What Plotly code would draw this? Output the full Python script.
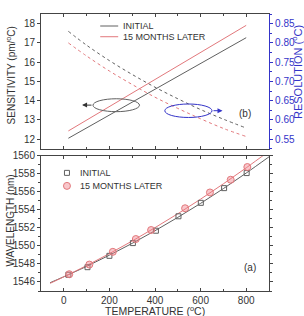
import plotly.graph_objects as go

# ---------------- data ----------------
temp_line = [20, 100, 200, 300, 400, 500, 600, 700, 800]
sens_initial = [12.05, 12.59, 13.26, 13.93, 14.60, 15.27, 15.94, 16.60, 17.27]
sens_later = [12.43, 12.99, 13.70, 14.40, 15.10, 15.80, 16.51, 17.21, 17.91]
res_initial = [0.830, 0.794, 0.754, 0.718, 0.685, 0.655, 0.627, 0.602, 0.579]
res_later = [0.800, 0.766, 0.727, 0.692, 0.659, 0.630, 0.603, 0.578, 0.557]

temp_initial = [20, 104, 200, 303, 404, 503, 601, 703, 802]
wl_initial = [1546.80, 1547.64, 1548.90, 1550.31, 1551.68, 1553.28, 1554.77, 1556.40, 1558.07]
temp_later = [24, 112, 215, 316, 383, 532, 641, 732, 805]
wl_later = [1546.86, 1547.93, 1549.34, 1550.76, 1551.76, 1554.17, 1555.92, 1557.33, 1558.74]

temp_fit = [-60, 0, 100, 200, 300, 400, 500, 600, 700, 800, 900]
fit_initial = [1545.92, 1546.58, 1547.73, 1548.97, 1550.28, 1551.68, 1553.16, 1554.71, 1556.35, 1558.07, 1559.87]
fit_later = [1545.85, 1546.57, 1547.82, 1549.14, 1550.54, 1552.02, 1553.56, 1555.18, 1556.88, 1558.65, 1560.49]

x_ticks = [0, 200, 400, 600, 800]
legend_labels = ["INITIAL", "15 MONTHS LATER"]

# ---------------- style ----------------
W, H = 304, 316
L, R, T, B = 40.7, 269.0, 14.0, 290.7
GRAY = "#606060"
RED = "#e2787c"
BLUE = "#3434c8"
FRAME = "#444444"
TXT = "#333333"
FONT = "Liberation Sans"


def px(xp):
    return (xp - L) / (R - L)


def py(yp):
    return (B - yp) / (B - T)


fig = go.Figure()

# top panel
fig.add_trace(go.Scatter(x=temp_line, y=sens_initial, mode="lines", xaxis="x2", yaxis="y2",
                         line=dict(color=GRAY, width=1), showlegend=False))
fig.add_trace(go.Scatter(x=temp_line, y=sens_later, mode="lines", xaxis="x2", yaxis="y2",
                         line=dict(color=RED, width=1), showlegend=False))
fig.add_trace(go.Scatter(x=temp_line, y=res_initial, mode="lines", xaxis="x2", yaxis="y3",
                         line=dict(color=GRAY, width=1, dash="dot", shape="spline"), showlegend=False))
fig.add_trace(go.Scatter(x=temp_line, y=res_later, mode="lines", xaxis="x2", yaxis="y3",
                         line=dict(color=RED, width=1, dash="dot", shape="spline"), showlegend=False))

# bottom panel
fig.add_trace(go.Scatter(x=temp_fit, y=fit_initial, mode="lines", xaxis="x", yaxis="y",
                         line=dict(color=GRAY, width=1, shape="spline"), showlegend=False))
fig.add_trace(go.Scatter(x=temp_fit, y=fit_later, mode="lines", xaxis="x", yaxis="y",
                         line=dict(color=RED, width=1, shape="spline"), showlegend=False))
fig.add_trace(go.Scatter(x=temp_initial, y=wl_initial, mode="markers", xaxis="x", yaxis="y",
                         marker=dict(symbol="square-open", size=5, color=GRAY, line=dict(width=1)),
                         showlegend=False))
fig.add_trace(go.Scatter(x=temp_later, y=wl_later, mode="markers", xaxis="x", yaxis="y",
                         marker=dict(symbol="circle", size=7, color="rgba(240,130,140,0.45)",
                                     line=dict(width=1, color=RED)),
                         showlegend=False))

ytop0 = py(148.7)
ybot1 = py(155.5)

axis_common = dict(showline=True, linecolor=FRAME, linewidth=1, ticklen=3, tickcolor=FRAME, automargin=False,
                   tickfont=dict(family=FONT, size=10, color=TXT), showgrid=False, zeroline=False)

fig.update_layout(
    width=W, height=H,
    margin=dict(l=L, r=W - R, t=T, b=H - B, pad=0, autoexpand=False),
    paper_bgcolor="white", plot_bgcolor="white",
    font=dict(family=FONT, color=TXT),
    xaxis=dict(domain=[0, 1], range=[-100, 900], anchor="y", ticks="inside", tickvals=x_ticks,
               mirror="ticks", minor=dict(ticks="inside", dtick=100, tick0=0, ticklen=2, tickcolor=FRAME),
               **axis_common),
    xaxis2=dict(domain=[0, 1], range=[-100, 900], anchor="y2", ticks="inside", tickvals=x_ticks,
                mirror="ticks", showticklabels=False, matches="x",
                minor=dict(ticks="inside", dtick=100, tick0=0, ticklen=2, tickcolor=FRAME),
                **axis_common),
    yaxis=dict(domain=[0, ybot1], range=[1545, 1560], anchor="x", ticks="outside", tick0=1546, dtick=2,
               mirror="ticks", minor=dict(ticks="outside", dtick=1, tick0=1545, ticklen=2, tickcolor=FRAME),
               **axis_common),
    yaxis2=dict(domain=[ytop0, 1], range=[11.5, 18.5], anchor="x2", ticks="outside", tick0=12, dtick=1,
                **axis_common),
    yaxis3=dict(overlaying="y2", side="right", anchor="x2", range=[0.525, 0.875], tick0=0.55, dtick=0.05,
                tickformat=".2f", showline=True, linecolor=BLUE, linewidth=1.2, ticks="outside",
                ticklen=3, tickcolor=BLUE, tickfont=dict(family=FONT, size=10, color=BLUE),
                showgrid=False, zeroline=False, automargin=False,
                minor=dict(ticks="outside", dtick=0.025, ticklen=2, tickcolor=BLUE)),
)

# ellipses and arrows (top panel)
fig.add_shape(type="circle", xref="x2", yref="y2", x0=128, x1=332, y0=13.43, y1=14.10,
              line=dict(color=GRAY, width=1))
fig.add_annotation(x=80, y=13.77, ax=128, ay=13.77, xref="x2", yref="y2", axref="x2", ayref="y2",
                   text="", showarrow=True, arrowhead=2, arrowsize=1, arrowwidth=1, arrowcolor="#333")
fig.add_shape(type="circle", xref="x2", yref="y3", x0=443, x1=650, y0=0.6064, y1=0.6414,
              line=dict(color=BLUE, width=1))
fig.add_annotation(x=696, y=0.624, ax=650, ay=0.624, xref="x2", yref="y3", axref="x2", ayref="y3",
                   text="", showarrow=True, arrowhead=2, arrowsize=1, arrowwidth=1, arrowcolor=BLUE)


def label(xp, yp, text, size=10, color=TXT, angle=0, xanchor="center"):
    fig.add_annotation(x=px(xp), y=py(yp), xref="paper", yref="paper", text=text, showarrow=False,
                       xanchor=xanchor, yanchor="middle", textangle=angle,
                       font=dict(family=FONT, size=size, color=color))


# top legend
for yy, col, lab in [(26.0, GRAY, legend_labels[0]), (36.7, RED, legend_labels[1])]:
    fig.add_shape(type="line", xref="paper", yref="paper", x0=px(100), x1=px(118), y0=py(yy), y1=py(yy),
                  line=dict(color=col, width=1))
    label(120.5, yy, lab, size=9, xanchor="left")

# bottom legend
fig.add_shape(type="rect", xref="paper", yref="paper", xsizemode="pixel", ysizemode="pixel",
              xanchor=px(66.7), yanchor=py(172.7), x0=-2.5, x1=2.5, y0=-2.5, y1=2.5,
              line=dict(color=GRAY, width=1))
fig.add_shape(type="circle", xref="paper", yref="paper", xsizemode="pixel", ysizemode="pixel",
              xanchor=px(66.7), yanchor=py(185.7), x0=-3.5, x1=3.5, y0=-3.5, y1=3.5,
              fillcolor="rgba(240,130,140,0.45)", line=dict(color=RED, width=1))
for yy, lab in [(172.7, legend_labels[0]), (185.7, legend_labels[1])]:
    label(78, yy, lab, size=9, xanchor="left")

# panel labels
label(245, 113.5, "(b)")
label(250, 267.5, "(a)")

# axis titles
label(11, 75, "SENSITIVITY (pm/<sup>o</sup>C)", size=10, angle=-90)
label(297, 72, "RESOLUTION (<sup>o</sup>C)", size=11, color=BLUE, angle=-90)
label(10, 220, "WAVELENGTH (nm)", size=10, angle=-90)
label(155, 310.5, "TEMPERATURE (<sup>o</sup>C)", size=10.5)

fig.write_html("out.html")
